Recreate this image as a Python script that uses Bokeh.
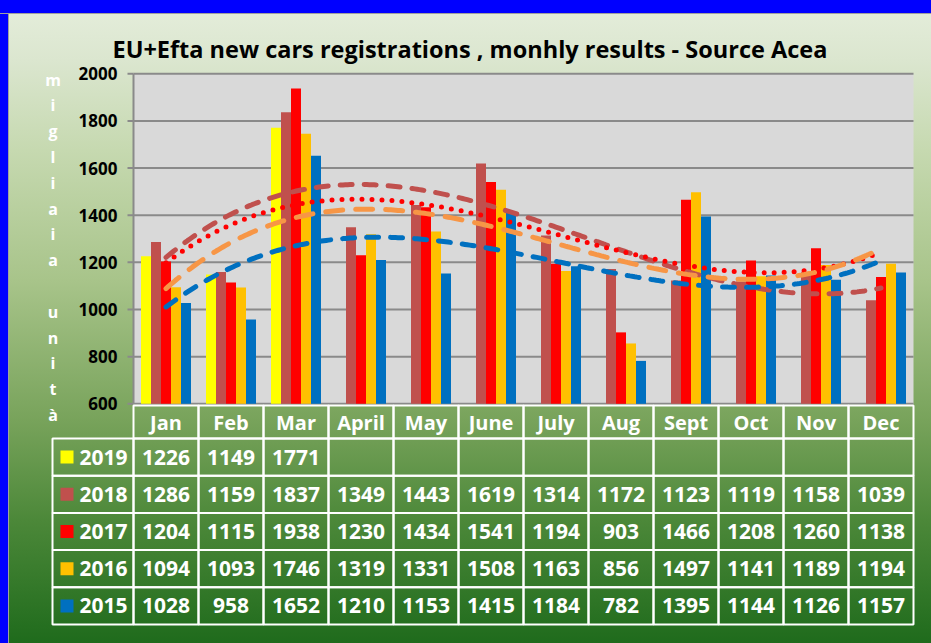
import numpy as np
from bokeh.plotting import figure
from bokeh.models import Range1d
from bokeh.embed import file_html
from bokeh.resources import INLINE
from bokeh.core.properties import value

# ---------------- data ----------------
months = ["Jan", "Feb", "Mar", "April", "May", "June", "July", "Aug",
          "Sept", "Oct", "Nov", "Dec"]
years = ["2019", "2018", "2017", "2016", "2015"]
v2019 = [1226, 1149, 1771, None, None, None, None, None, None, None, None, None]
v2018 = [1286, 1159, 1837, 1349, 1443, 1619, 1314, 1172, 1123, 1119, 1158, 1039]
v2017 = [1204, 1115, 1938, 1230, 1434, 1541, 1194, 903, 1466, 1208, 1260, 1138]
v2016 = [1094, 1093, 1746, 1319, 1331, 1508, 1163, 856, 1497, 1141, 1189, 1194]
v2015 = [1028, 958, 1652, 1210, 1153, 1415, 1184, 782, 1395, 1144, 1126, 1157]
series = [v2019, v2018, v2017, v2016, v2015]
bar_colors = ["#ffff00", "#c0504d", "#ff0000", "#ffc000", "#0070c0"]
trend_colors = [None, "#c0504d", "#ff0000", "#f79646", "#0070c0"]
trend_dash = [None, "12 12", "0 10", "17 13", "12 12"]
yticks = [600, 800, 1000, 1200, 1400, 1600, 1800, 2000]
axis_title = "migliaia unità"
title_text = "EU+Efta new cars registrations , monhly results - Source Acea"

# ---------------- layout constants (page pixels) ----------------
FIG_W, FIG_H = 931, 643
MT = 66                      # frame top (title above it)
X0_PX, MONTH_PX = 133, 65    # plot-area left edge, width of one month
YMIN, YMAX = 600, 2000
Y_MIN_PX, Y_MAX_PX = 403.3, 73.3
UNITS_PER_PX = (YMAX - YMIN) / (Y_MIN_PX - Y_MAX_PX)


def dx(px):
    return (px - X0_PX) / MONTH_PX


def dy(py):
    return YMIN + (Y_MIN_PX - py) * UNITS_PER_PX


NM = len(months)
BAR_W = 10 / MONTH_PX
FONT = "Open Sans"
GRID = "#8a8a8a"

bg = ("linear-gradient(to bottom, #0000ff 0px, #0000ff 13px, #a0a0a0 13px, #a0a0a0 14px, transparent 14px), "
      "linear-gradient(to right, #0000ff 0px, #0000ff 8px, #a0a0a0 8px, #a0a0a0 9px, transparent 9px), "
      "linear-gradient(to bottom, #e3ecd9 14px, #dbe6cf 60px, #c6d9b0 150px, #a8c48a 280px, "
      "#78a35b 420px, #4c8839 520px, #1f6b1c 643px)")

p = figure(width=FIG_W, height=FIG_H,
           x_range=Range1d(dx(0), dx(FIG_W)), y_range=Range1d(dy(FIG_H), dy(MT)),
           output_backend="svg", toolbar_location=None,
           x_axis_location=None, y_axis_location=None,
           min_border_left=0, min_border_right=0, min_border_top=MT,
           min_border_bottom=0, background_fill_color=None,
           border_fill_color=None, outline_line_color=None)
p.styles = {"background": bg}
p.grid.visible = False

# title
p.title.text = title_text
p.title.text_font = FONT
p.title.text_font_style = "bold"
p.title.text_font_size = "23.5px"
p.title.text_color = "#000000"
p.title.align = "left"
p.title.offset = 112
p.title.standoff = 4

# plot area, gridlines, value axis
p.quad(left=0, right=NM, bottom=YMIN, top=YMAX, fill_color="#d9d9d9",
       line_color=None)
p.segment(x0=[0] * len(yticks), x1=[NM] * len(yticks), y0=yticks, y1=yticks,
          line_color=GRID, line_width=2)
p.segment(x0=[0], x1=[0], y0=[YMIN], y1=[YMAX], line_color=GRID, line_width=2)
p.segment(x0=[dx(127)] * len(yticks), x1=[0] * len(yticks), y0=yticks,
          y1=yticks, line_color=GRID, line_width=2)
p.text(x=[dx(117)] * len(yticks), y=yticks, text=[str(t) for t in yticks],
       text_font=value(FONT), text_font_style="bold", text_font_size="17px",
       text_color="#000000", text_align="right", text_baseline="middle")

# vertical axis title, one letter per line
p.text(x=[dx(52.5)] * len(axis_title),
       y=[dy(79 + 25.8 * i) for i in range(len(axis_title))],
       text=list(axis_title), text_font=value(FONT), text_font_style="bold",
       text_font_size="16px", text_color="#ffffff", text_align="center",
       text_baseline="alphabetic")

# bars
n = len(series)
for k, (vals, col) in enumerate(zip(series, bar_colors)):
    off = (k - (n - 1) / 2) * BAR_W
    xs = [i + 0.5 + off for i, v in enumerate(vals) if v is not None]
    tops = [v for v in vals if v is not None]
    p.vbar(x=xs, top=tops, bottom=YMIN, width=BAR_W, fill_color=col,
           line_color=None)

# polynomial trendlines (order 3), as in the original spreadsheet
t_idx = np.arange(1, NM + 1)
t_fine = np.linspace(1, NM, 300)
for vals, col, dash in zip(series, trend_colors, trend_dash):
    if col is None:
        continue
    coef = np.polyfit(t_idx, np.array(vals, dtype=float), 3)
    p.line(t_fine - 0.5, np.polyval(coef, t_fine), line_color=col,
           line_width=5, line_dash=dash, line_cap="round")

# data table
HEAD_TOP, HEAD_BOT = 405, 438
ROW_H = 37.2
TBL_LEFT = 52

cl, cr, ct, cb = [], [], [], []
for i in range(NM):
    cl.append(i); cr.append(i + 1); ct.append(dy(HEAD_TOP)); cb.append(dy(HEAD_BOT))
tx, ty, tt = [], [], []
yx, yy, yt = [], [], []
sq_t, sq_b = [], []
for r, (yr, vals) in enumerate(zip(years, series)):
    top = HEAD_BOT + r * ROW_H
    bot = top + ROW_H
    mid = (top + bot) / 2
    cl.append(dx(TBL_LEFT)); cr.append(0); ct.append(dy(top)); cb.append(dy(bot))
    for i in range(NM):
        cl.append(i); cr.append(i + 1); ct.append(dy(top)); cb.append(dy(bot))
        if vals[i] is not None:
            tx.append(i + 0.5)
            ty.append(dy(mid))
            tt.append(str(vals[i]))
    sq_t.append(dy(mid - 6.5))
    sq_b.append(dy(mid + 6.5))
    yx.append(dx(79))
    yy.append(dy(mid))
    yt.append(yr)

p.quad(left=cl, right=cr, top=ct, bottom=cb, fill_color=None,
       line_color="#ffffff", line_width=2)
p.quad(left=[dx(60)] * n, right=[dx(73)] * n, top=sq_t, bottom=sq_b,
       fill_color=bar_colors, line_color=None)

p.text(x=[i + 0.5 for i in range(NM)], y=[dy((HEAD_TOP + HEAD_BOT) / 2)] * NM,
       text=months, text_font=value(FONT), text_font_style="bold",
       text_font_size="20px", text_color="#ffffff", text_align="center",
       text_baseline="middle")
p.text(x=tx, y=ty, text=tt, text_font=value(FONT), text_font_style="bold",
       text_font_size="21px", text_color="#ffffff", text_align="center",
       text_baseline="middle")
p.text(x=yx, y=yy, text=yt, text_font=value(FONT), text_font_style="bold",
       text_font_size="21px", text_color="#ffffff", text_align="left",
       text_baseline="middle")

open("out.html", "w").write(file_html(p, INLINE))
